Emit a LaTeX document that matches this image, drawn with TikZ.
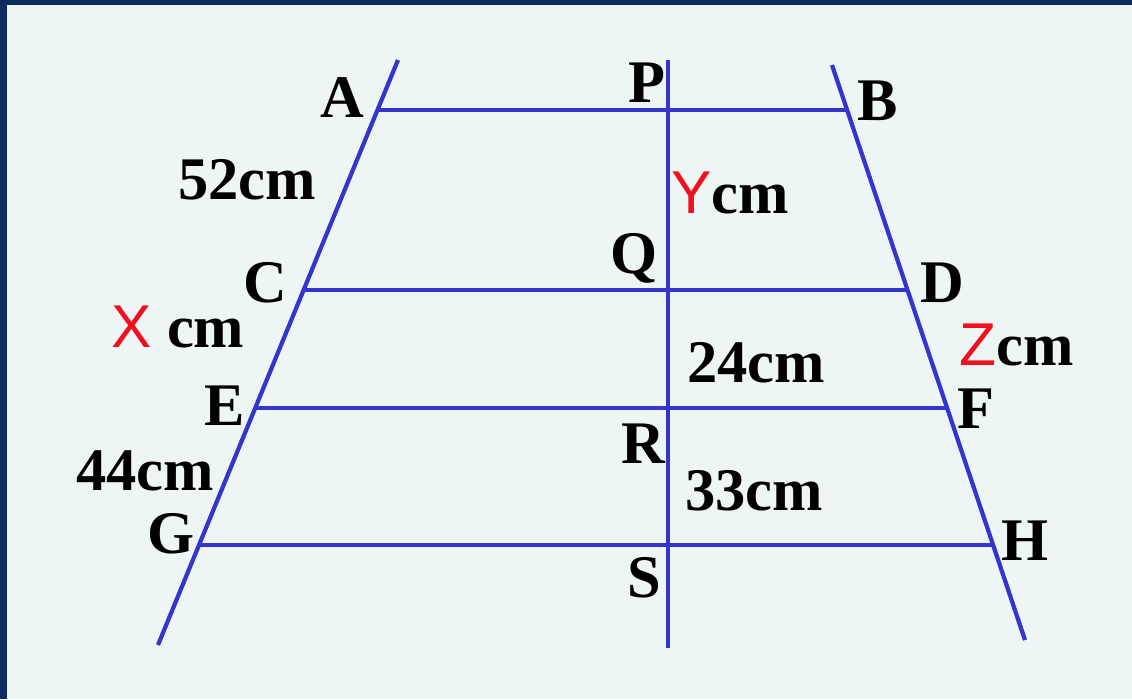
\documentclass[tikz,border=0pt]{standalone}
\usepackage{fontspec}
\setmainfont{Liberation Serif}
\newfontfamily\varfont{Liberation Sans}
\usepackage{xcolor}
\definecolor{navy}{HTML}{0B2C5C}
\definecolor{paper}{HTML}{EEF5F5}
\definecolor{lineblue}{HTML}{3535CC}
\definecolor{varred}{HTML}{F01020}
\newcommand{\unk}[1]{{\color{varred}\varfont\mdseries #1}}

\begin{document}
\begin{tikzpicture}[x=0.01cm,y=-0.01cm,line width=1.2pt]
\tikzset{lbl/.style={font=\fontsize{17.2}{20}\selectfont\bfseries,inner sep=0pt,anchor=base},
  seg/.style={draw=lineblue}}
\fill[navy] (0,0) rectangle (1132,699);
\fill[paper] (7,5) rectangle (1132,699);
\useasboundingbox (0,0) rectangle (1132,699);
% transversals
\coordinate (L1) at (398,60);
\coordinate (L2) at (158,645);
\coordinate (M1) at (668,60);
\coordinate (M2) at (668,648);
\coordinate (R1) at (832,65);
\coordinate (R2) at (1025,640);
% points on the parallels
\coordinate (A) at (377,110);
\coordinate (B) at (847,110);
\coordinate (C) at (304,290);
\coordinate (D) at (907,290);
\coordinate (E) at (256,408);
\coordinate (F) at (947,408);
\coordinate (G) at (200,545);
\coordinate (H) at (993,545);
\draw[seg] (L1) -- (L2);
\draw[seg] (M1) -- (M2);
\draw[seg] (R1) -- (R2);
\draw[seg] (A) -- (B);
\draw[seg] (C) -- (D);
\draw[seg] (E) -- (F);
\draw[seg] (G) -- (H);
% letters
\node[lbl] (labA) at (342,117) {A};
\node[lbl] (labP) at (647,102) {P};
\node[lbl] (labB) at (878,120) {B};
\node[lbl] (labQ) at (634,273) {Q};
\node[lbl] (labC) at (265,302) {C};
\node[lbl] (labD) at (942,302) {D};
\node[lbl] (labE) at (225,425) {E};
\node[lbl] (labF) at (976,428) {F};
\node[lbl] (labR) at (643,463) {R};
\node[lbl] (labG) at (171,553) {G};
\node[lbl] (labH) at (1025,560) {H};
\node[lbl] (labS) at (644,597) {S};
% lengths
\node[lbl] (lenAC) at (247,199) {52cm};
\node[lbl] (lenCE) at (178,347) {\unk{X} cm};
\node[lbl] (lenEG) at (145,490) {44cm};
\node[lbl] (lenPQ) at (730,213) {\unk{Y}cm};
\node[lbl] (lenQR) at (756,382) {24cm};
\node[lbl] (lenRS) at (754,510) {33cm};
\node[lbl] (lenDF) at (1017,365) {\unk{Z}cm};
\end{tikzpicture}
\end{document}
